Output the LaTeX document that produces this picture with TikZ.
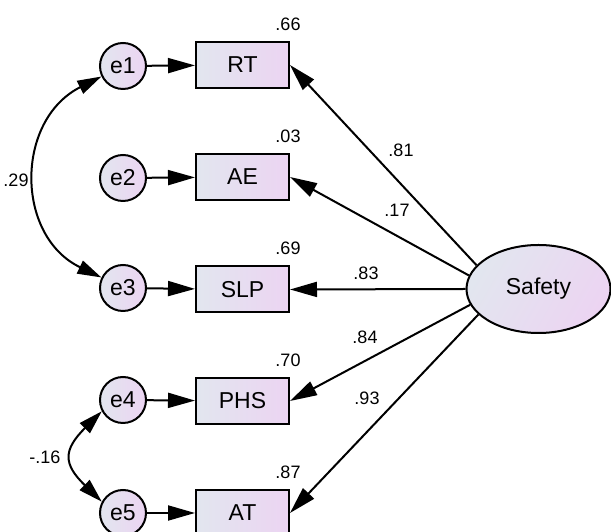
\documentclass[tikz,border=0pt]{standalone}
\usepackage{fontspec}
\setmainfont{Liberation Sans}
\usetikzlibrary{shapes.geometric,arrows.meta}
\definecolor{shA}{HTML}{E2E6EF}
\definecolor{shB}{HTML}{ECD4F2}
\begin{document}
\begin{tikzpicture}[x=1pt,y=1pt,
  err/.style={circle,draw,line width=2pt,minimum size=46pt,inner sep=0pt,left color=shA,right color=shB,font=\fontsize{23}{26}\selectfont},
  obs/.style={rectangle,draw,line width=2pt,minimum width=93pt,minimum height=46pt,inner sep=0pt,left color=shA,right color=shB,font=\fontsize{23}{26}\selectfont},
  lat/.style={ellipse,draw,line width=2pt,minimum width=144pt,minimum height=88pt,inner sep=0pt,left color=shA,right color=shB,shading angle=60,font=\fontsize{23}{26}\selectfont},
  path/.style={line width=2pt,-{Triangle[length=27pt,width=15pt]}},
  cov/.style={line width=2pt,{Triangle[length=24pt,width=14pt]}-{Triangle[length=24pt,width=14pt]}},
  num/.style={font=\fontsize{18}{21}\selectfont,inner sep=0pt}
]
\useasboundingbox (0,0) rectangle (611,532);
\node[err] (e1) at (123,466) {e1};
\node[err] (e2) at (123,354) {e2};
\node[err] (e3) at (123,244) {e3};
\node[err] (e4) at (123,132) {e4};
\node[err] (e5) at (123,19) {e5};
\node[obs] (RT) at (242.5,467) {RT};
\node[obs] (AE) at (242.5,355) {AE};
\node[obs] (SLP) at (242.5,242.5) {SLP};
\node[obs] (PHS) at (242.5,131) {PHS};
\node[obs] (AT) at (242.5,19) {AT};
\node[lat] (S) at (538.5,243) {Safety};
\node[num] (r1) at (288,508) {.66};
\node[num] (r2) at (288,396) {.03};
\node[num] (r3) at (288,284) {.69};
\node[num] (r4) at (288,172) {.70};
\node[num] (r5) at (288,60) {.87};
\draw[path] (e1) -- (RT);
\draw[path] (e2) -- (AE);
\draw[path] (e3) -- (SLP);
\draw[path] (e4) -- (PHS);
\draw[path] (e5) -- (AT);
\draw[path] (S.159) -- (RT.east);
\draw[path] (S.169) -- (AE.east);
\draw[path] (S.180) -- (SLP.east);
\draw[path] (S.193) -- (PHS.east);
\draw[path] (S.203) -- (AT.east);
\node[num] (l1) at (401,382) {.81};
\node[num] (l2) at (397,322) {.17};
\node[num] (l3) at (366,259) {.83};
\node[num] (l4) at (365,195) {.84};
\node[num] (l5) at (367,134) {.93};
\draw[cov] (e1.206) .. controls (15,412) and (15,296) .. (e3.154);
\draw[cov] (e4.208) .. controls (63,82) and (63,68) .. (e5.152);
\node[num] (c1) at (16,352) {.29};
\node[num] (c2) at (45,75) {-.16};
\end{tikzpicture}
\end{document}
